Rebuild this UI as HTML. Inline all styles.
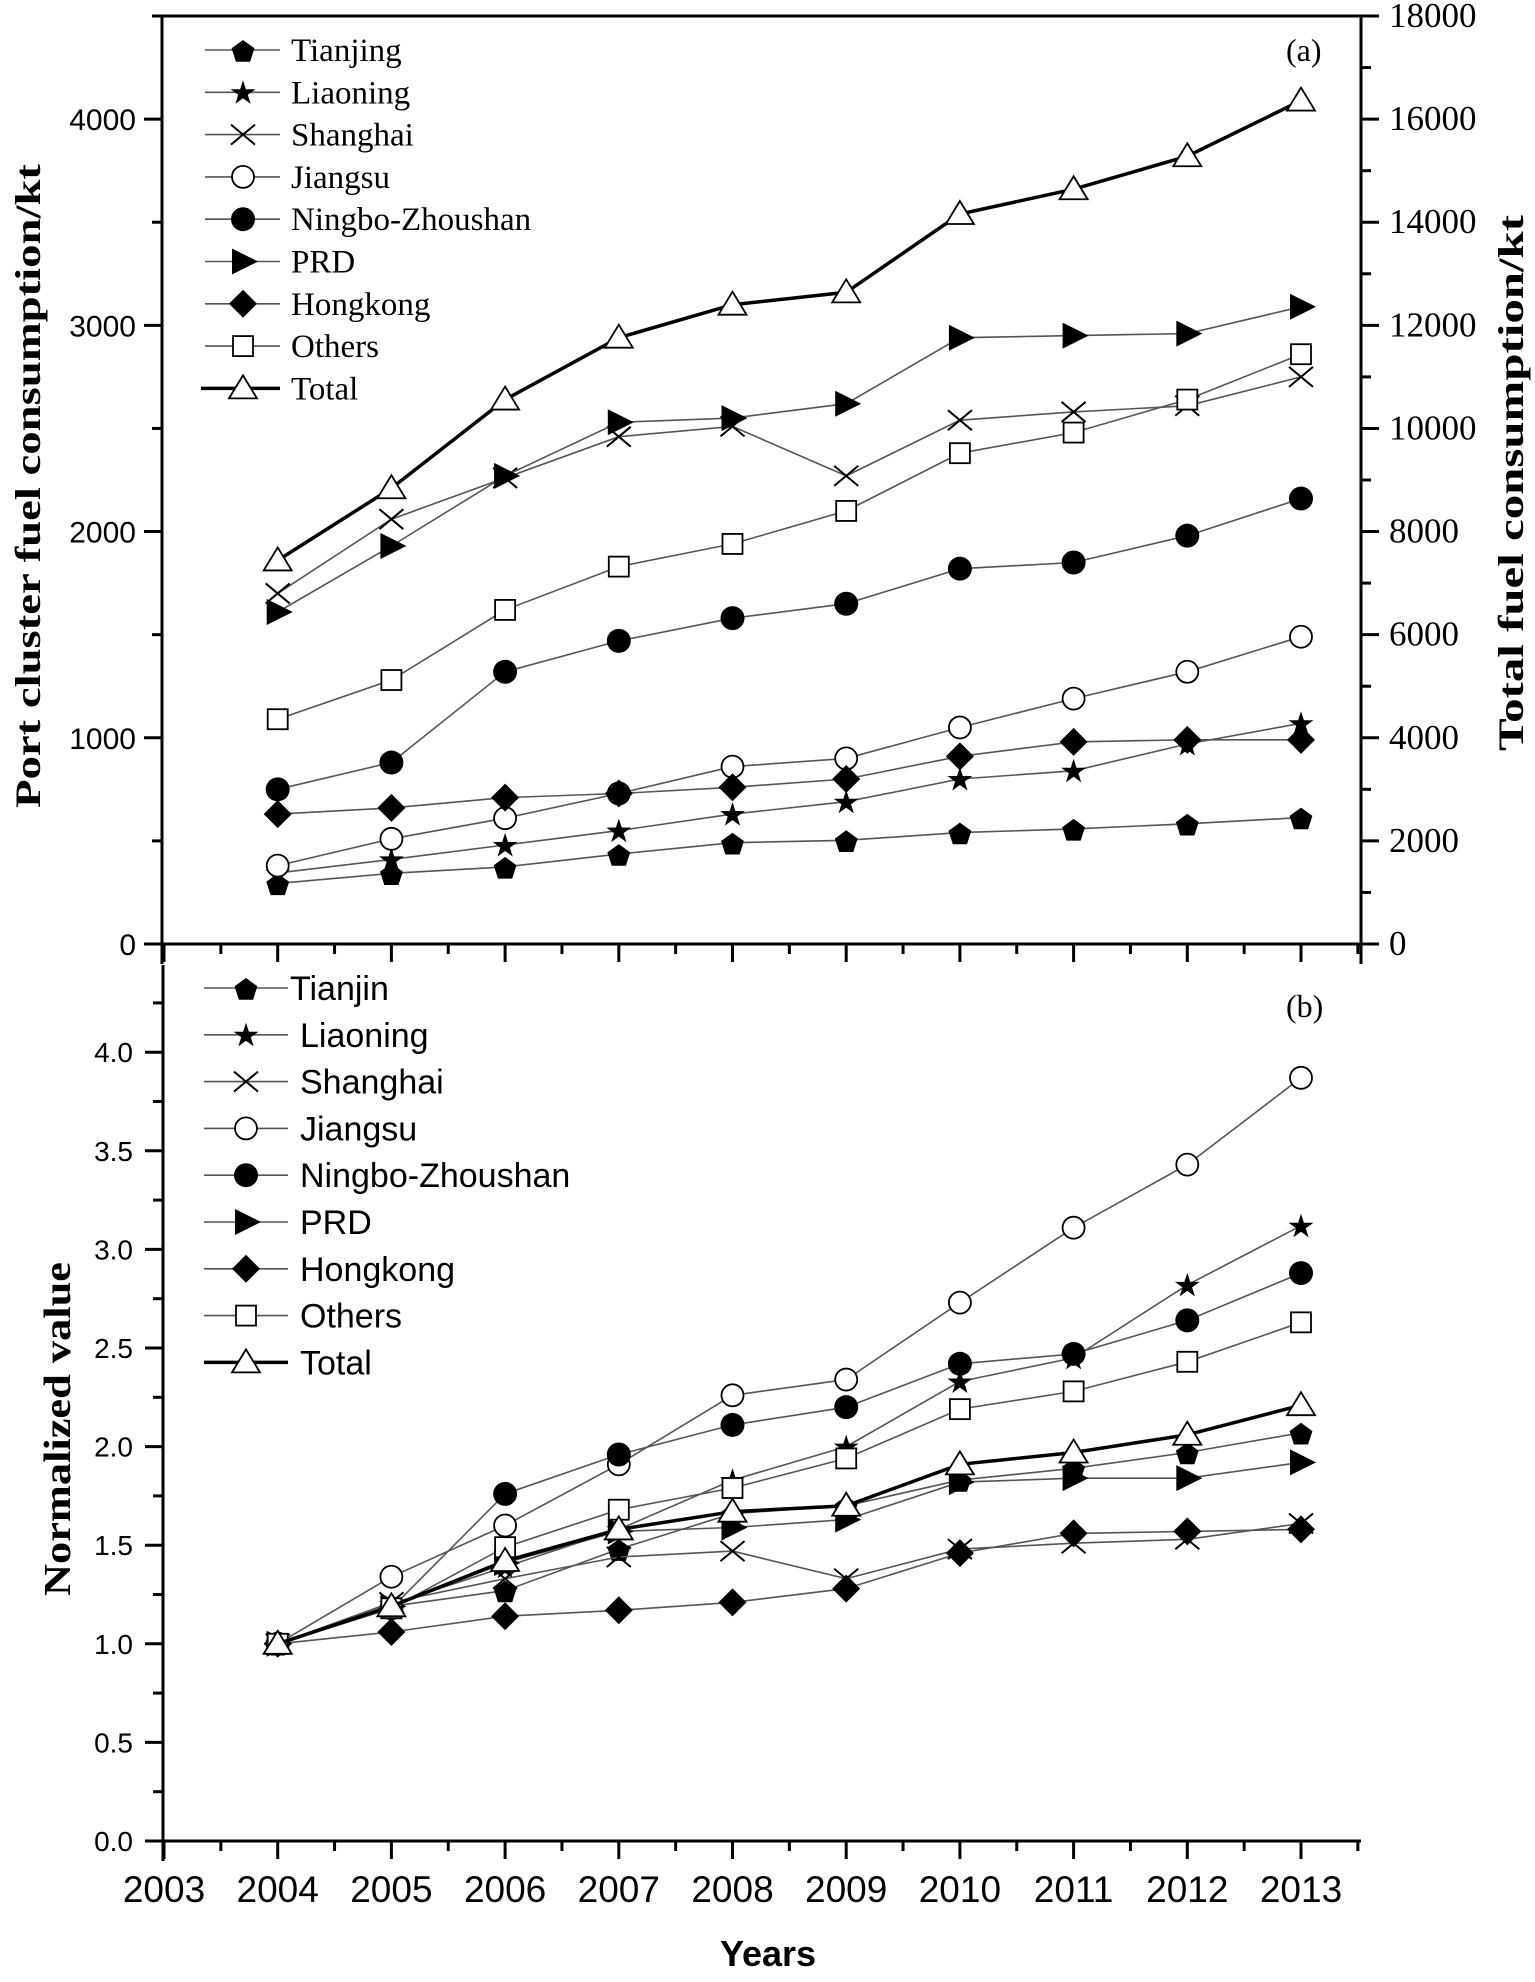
<!DOCTYPE html>
<html><head><meta charset="utf-8"><style>
html,body{margin:0;padding:0;background:#fff}
svg{display:block}
.serif{font-family:"Liberation Serif",serif}
.sans{font-family:"Liberation Sans",sans-serif}
</style></head><body>
<svg id="chart" width="1535" height="1982" viewBox="0 0 1535 1982" xmlns="http://www.w3.org/2000/svg">
<g id="top"></g>
<g id="bot"></g>
</svg>
<script>
const years = [2004,2005,2006,2007,2008,2009,2010,2011,2012,2013];
const seriesNames = ["Tianjin","Liaoning","Shanghai","Jiangsu","Ningbo-Zhoushan","PRD","Hongkong","Others","Total"];
const topLegendLabels = ["Tianjing","Liaoning","Shanghai","Jiangsu","Ningbo-Zhoushan","PRD","Hongkong","Others","Total"];
const markers = ["pentagon","star","cross","circle","dot","tri-right","diamond","square","tri-up"];
// panel (a): port cluster consumption (kt), left axis
const aTianjin = [294,343,374,436,491,503,540,558,583,613];
const aLiaoning = [345,410,480,550,630,690,800,840,970,1070];
const aShanghai = [1700,2060,2260,2460,2510,2270,2540,2580,2610,2750];
const aJiangsu = [380,510,610,730,860,900,1050,1190,1320,1490];
const aNingbo = [750,880,1320,1470,1580,1650,1820,1850,1980,2160];
const aPRD = [1610,1930,2270,2530,2550,2620,2940,2950,2960,3090];
const aHongkong = [630,660,710,730,760,800,910,980,990,990];
const aOthers = [1090,1280,1620,1830,1940,2100,2380,2480,2640,2860];
// total on right axis
const aTotal = [7440,8840,10560,11760,12400,12640,14160,14640,15280,16360];
// panel (b): normalized values
const bTianjin = [1.0,1.19,1.27,1.48,1.66,1.70,1.83,1.89,1.97,2.07];
const bLiaoning = [1.0,1.2,1.39,1.58,1.83,2.0,2.33,2.45,2.82,3.12];
const bShanghai = [1.0,1.21,1.33,1.44,1.47,1.33,1.48,1.51,1.53,1.61];
const bJiangsu = [1.0,1.34,1.60,1.91,2.26,2.34,2.73,3.11,3.43,3.87];
const bNingbo = [1.0,1.18,1.76,1.96,2.11,2.20,2.42,2.47,2.64,2.88];
const bPRD = [1.0,1.19,1.41,1.57,1.59,1.63,1.82,1.84,1.84,1.92];
const bHongkong = [1.0,1.06,1.14,1.17,1.21,1.28,1.46,1.56,1.57,1.58];
const bOthers = [1.0,1.18,1.49,1.68,1.79,1.94,2.19,2.28,2.43,2.63];
const bTotal = [1.0,1.19,1.42,1.58,1.67,1.70,1.91,1.97,2.06,2.21];
const xTickLabels = ["2003","2004","2005","2006","2007","2008","2009","2010","2011","2012","2013"];
const aLeftTicks = ["0","1000","2000","3000","4000"];
const aRightTicks = ["0","2000","4000","6000","8000","10000","12000","14000","16000","18000"];
const bTicks = ["0.0","0.5","1.0","1.5","2.0","2.5","3.0","3.5","4.0"];

const NS="http://www.w3.org/2000/svg";
function mk(parent,tag,attrs,text){const e=document.createElementNS(NS,tag);for(const k in attrs)e.setAttribute(k,attrs[k]);if(text!==undefined)e.textContent=text;parent.appendChild(e);return e;}
const L=162,R=1361;
const xs = y => 164+(y-2003)*113.7;
const aTop=16,aBot=944;
const yA = v => aBot-(v/4500)*(aBot-aTop);
const yAR = v => aBot-(v/18000)*(aBot-aTop);
const bTop=965,bBot=1841;
const yB = v => bBot-(v/0.5)*98.6;

function marker(g,type,cx,cy){
  let e;const s=11;
  if(type==="pentagon"){let p=[];for(let i=0;i<5;i++){const a=-Math.PI/2+i*2*Math.PI/5;p.push((cx+12*Math.cos(a)).toFixed(1)+","+(cy+2+12*Math.sin(a)).toFixed(1));}e=mk(g,"polygon",{points:p.join(" "),fill:"#000"});}
  else if(type==="star"){let p=[];for(let i=0;i<10;i++){const r=i%2?5:13;const a=-Math.PI/2+i*Math.PI/5;p.push((cx+r*Math.cos(a)).toFixed(1)+","+(cy+1+r*Math.sin(a)).toFixed(1));}e=mk(g,"polygon",{points:p.join(" "),fill:"#000"});}
  else if(type==="cross"){e=mk(g,"path",{d:`M${cx-12},${cy-10}L${cx+12},${cy+10}M${cx-12},${cy+10}L${cx+12},${cy-10}`,stroke:"#000","stroke-width":2,fill:"none"});}
  else if(type==="circle"){e=mk(g,"circle",{cx,cy,r:s,fill:"#fff",stroke:"#000","stroke-width":1.8});}
  else if(type==="dot"){e=mk(g,"circle",{cx,cy,r:s+1,fill:"#000"});}
  else if(type==="tri-right"){e=mk(g,"polygon",{points:`${cx-11},${cy-13} ${cx+15},${cy} ${cx-11},${cy+13}`,fill:"#000"});}
  else if(type==="diamond"){e=mk(g,"polygon",{points:`${cx},${cy-14} ${cx+14},${cy} ${cx},${cy+14} ${cx-14},${cy}`,fill:"#000"});}
  else if(type==="square"){e=mk(g,"rect",{x:cx-10,y:cy-10,width:20,height:20,fill:"#fff",stroke:"#000","stroke-width":1.8});}
  else if(type==="tri-up"){e=mk(g,"polygon",{points:`${cx},${cy-13} ${cx+14},${cy+10} ${cx-14},${cy+10}`,fill:"#fff",stroke:"#000","stroke-width":1.8});}
  return e;
}
function series(g,vals,yf,idx,pname){
  const grp=mk(g,"g",{});
  
  
  const tot=idx===8;
  const d=vals.map((v,i)=>(i?"L":"M")+xs(years[i]).toFixed(1)+","+yf(v).toFixed(1)).join("");
  const ln=mk(grp,"path",{d,fill:"none",stroke:tot?"#000":"#555","stroke-width":tot?3.5:1.6});
  
  
  vals.forEach((v,i)=>{const m=marker(grp,markers[idx],xs(years[i]),yf(v));
    
    });
}
function xAxis(g,y0,labels,pname){
  const ax=mk(g,"g",{});
  
  
  mk(ax,"line",{x1:L-2,y1:y0,x2:R,y2:y0,stroke:"#000","stroke-width":3});
  for(let t=2003;t<=2013.6;t+=0.5){const x=xs(t);if(x>R)break;const maj=Number.isInteger(t);
    mk(ax,"line",{x1:x,y1:y0,x2:x,y2:y0+(maj?18:10),stroke:"#000","stroke-width":3});}
  if(labels){labels.forEach((lab,i)=>{const t=mk(ax,"text",{x:xs(2003+i),y:1902,"text-anchor":"middle","font-size":37,class:"sans"},lab);
    
    });}
}
// ---- panel a ----
const A=document.getElementById("top");
mk(A,"line",{x1:L,y1:aTop,x2:R,y2:aTop,stroke:"#000","stroke-width":3});
const la=mk(A,"g",{});


mk(la,"line",{x1:L,y1:aTop,x2:L,y2:aBot+20,stroke:"#000","stroke-width":3});
for(let v=0;v<=4500;v+=500){const y=yA(v);mk(la,"line",{x1:L,y1:y,x2:L-(v%1000?10:18),y2:y,stroke:"#000","stroke-width":3});}
aLeftTicks.forEach((lab,i)=>{const t=mk(la,"text",{x:136,y:yA(i*1000)+11,"text-anchor":"end","font-size":30,class:"sans"},lab);
  
  });
const ra=mk(A,"g",{});


mk(ra,"line",{x1:R,y1:aTop,x2:R,y2:aBot+20,stroke:"#000","stroke-width":3});
for(let v=0;v<=18000;v+=1000){const y=yAR(v);mk(ra,"line",{x1:R,y1:y,x2:R+(v%2000?10:18),y2:y,stroke:"#000","stroke-width":3});}
aRightTicks.forEach((lab,i)=>{const t=mk(ra,"text",{x:1389,y:yAR(i*2000)+11,"font-size":35,class:"serif"},lab);
  
  });
xAxis(A,aBot,null,"panel-a");
const t1=mk(A,"text",{transform:"translate(40,486) rotate(-90)","text-anchor":"middle","font-size":36,"font-weight":"bold",class:"serif",textLength:644,lengthAdjust:"spacingAndGlyphs"},"Port cluster fuel consumption/kt");


const t2=mk(A,"text",{transform:"translate(1523,483) rotate(-90)","text-anchor":"middle","font-size":36,"font-weight":"bold",class:"serif",textLength:536,lengthAdjust:"spacingAndGlyphs"},"Total fuel consumption/kt");


const pa=mk(A,"text",{x:1286,y:61,"font-size":32,class:"serif"},"(a)");


const aData=[aTianjin,aLiaoning,aShanghai,aJiangsu,aNingbo,aPRD,aHongkong,aOthers];
aData.forEach((d,i)=>series(A,d,yA,i,"panel-a"));
series(A,aTotal,yAR,8,"panel-a");
// legend a
const lgA=mk(A,"g",{});


topLegendLabels.forEach((lab,i)=>{const y=50+i*42.3;const e=mk(lgA,"g",{});
  
  
  mk(e,"line",{x1:i===8?201:205,y1:y,x2:280,y2:y,stroke:i===8?"#000":"#555","stroke-width":i===8?3.5:1.6});
  marker(e,markers[i],243,y);
  mk(e,"text",{x:291,y:y+11,"font-size":33,class:"serif"},lab);});
// ---- panel b ----
const B=document.getElementById("bot");
const lb=mk(B,"g",{});


mk(lb,"line",{x1:L+1,y1:bTop,x2:L+1,y2:bBot+20,stroke:"#000","stroke-width":3});
for(let v=0;v<=4.4001;v+=0.25){const y=yB(v);const maj=Math.abs(v*2-Math.round(v*2))<1e-6;mk(lb,"line",{x1:L+1,y1:y,x2:L+1-(maj?18:10),y2:y,stroke:"#000","stroke-width":3});}
bTicks.forEach((lab,i)=>{const t=mk(lb,"text",{x:133,y:yB(i*0.5)+10,"text-anchor":"end","font-size":28,class:"sans"},lab);
  
  });
xAxis(B,bBot,xTickLabels,"panel-b");
const t3=mk(B,"text",{x:768,y:1966,"text-anchor":"middle","font-size":36,"font-weight":"bold",class:"sans"},"Years");


const t4=mk(B,"text",{transform:"translate(70,1429) rotate(-90)","text-anchor":"middle","font-size":38,"font-weight":"bold",class:"serif",textLength:334,lengthAdjust:"spacingAndGlyphs"},"Normalized value");


const pb=mk(B,"text",{x:1286,y:1017,"font-size":32,class:"serif"},"(b)");


const bData=[bTianjin,bLiaoning,bShanghai,bJiangsu,bNingbo,bPRD,bHongkong,bOthers,bTotal];
bData.forEach((d,i)=>series(B,d,yB,i,"panel-b"));
const lgB=mk(B,"g",{});


seriesNames.forEach((lab,i)=>{const y=988+i*46.8;const e=mk(lgB,"g",{});
  
  
  mk(e,"line",{x1:204,y1:y,x2:288,y2:y,stroke:i===8?"#000":"#555","stroke-width":i===8?3.5:1.6});
  marker(e,markers[i],246,y);
  mk(e,"text",{x:i===0?290:300,y:y+12,"font-size":34,class:"sans"},lab);});
</script>
</body></html>
